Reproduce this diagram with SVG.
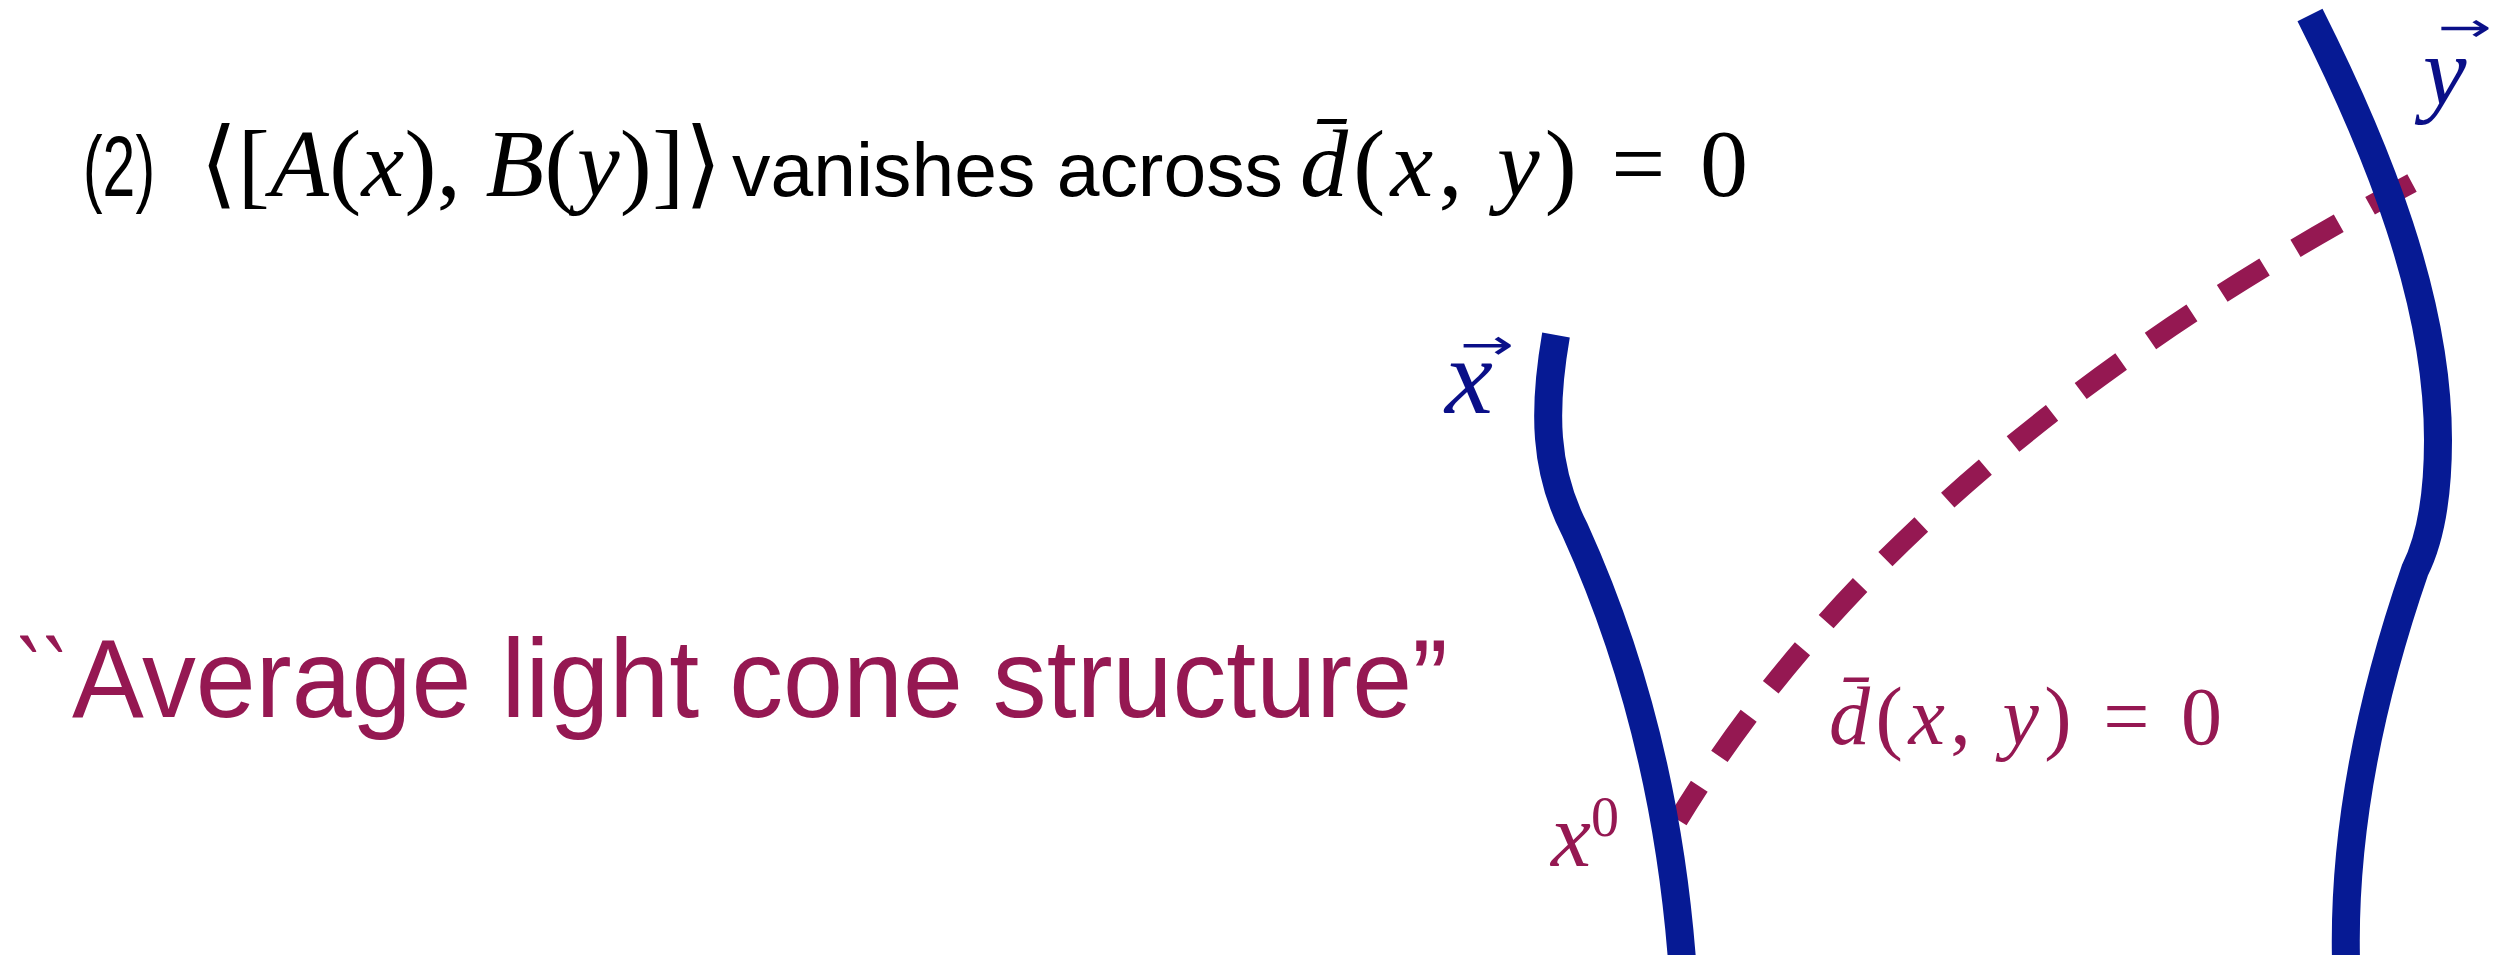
<svg xmlns="http://www.w3.org/2000/svg" width="2515" height="955" viewBox="0 0 2515 955">
<style>
.sans{font-family:"Liberation Sans",Arial,sans-serif}
.serif{font-family:"Liberation Serif","DejaVu Serif",serif}
.arrow{font-family:"DejaVu Sans",sans-serif}
.it{font-style:italic}
.wl{fill:none;stroke:#061a94;stroke-width:28;stroke-linecap:butt}
.dash{fill:none;stroke:#951852;stroke-width:20;stroke-dasharray:50 36;stroke-dashoffset:10}
.purple{fill:#951852}
.navy{fill:#0a0f88}
</style>
<rect width="2515" height="955" fill="#ffffff"/>
<g id="title">
<text class="sans" x="83" y="196" font-size="86" textLength="72" lengthAdjust="spacingAndGlyphs">(2)</text>
<text class="serif" x="200" y="196" font-size="96" textLength="522" xml:space="preserve">⟨[<tspan class="it">A</tspan>(<tspan class="it">x</tspan>), <tspan class="it">B</tspan>(<tspan class="it">y</tspan>)]⟩</text>
<text class="sans" x="732" y="196" font-size="76" textLength="551" lengthAdjust="spacingAndGlyphs">vanishes across</text>
<text class="serif" x="1300" y="196" font-size="96" textLength="448" xml:space="preserve"><tspan class="it">d̄</tspan>(<tspan class="it">x</tspan>, <tspan class="it">y</tspan>) = 0</text>
</g>
<g id="average-label">
<text class="sans purple" y="717" font-size="112"><tspan x="16" textLength="52" lengthAdjust="spacingAndGlyphs">``</tspan><tspan x="72" textLength="1376" lengthAdjust="spacingAndGlyphs">Average light cone structure”</tspan></text>
</g>
<g id="connectors">
<path id="dbar-line" class="dash" d="M1678,820 Q1900,455 2412,183"/>
</g>
<g id="worldline-x">
<path class="wl" d="M1556,335 C1543,410 1544,470 1575,530 C1625,640 1668,780 1682,960"/>
<text class="navy"><tspan class="arrow" x="1460" y="359" font-size="42" textLength="54" lengthAdjust="spacingAndGlyphs">→</tspan><tspan class="serif it" x="1445" y="413" font-size="108">x</tspan></text>
</g>
<g id="worldline-y">
<path class="wl" d="M2310,15 C2378,150 2438,300 2438,440 C2438,500 2430,540 2415,570 C2370,700 2343,830 2346,960"/>
<text class="navy"><tspan class="arrow" x="2438" y="41" font-size="40" textLength="54" lengthAdjust="spacingAndGlyphs">→</tspan><tspan class="serif it" x="2423" y="104" font-size="98">y</tspan></text>
</g>
<g id="x0-label">
<text class="serif purple" x="1551" y="866" font-size="90"><tspan class="it">x</tspan><tspan font-size="56" dy="-30">0</tspan></text>
</g>
<g id="dbar-label">
<text class="serif purple" x="1829" y="744" font-size="82" textLength="393" xml:space="preserve"><tspan class="it">d̄</tspan>(<tspan class="it">x</tspan>, <tspan class="it">y</tspan>) = 0</text>
</g>
</svg>
